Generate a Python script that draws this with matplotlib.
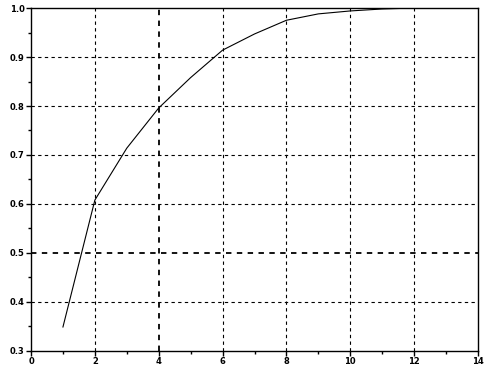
import matplotlib
matplotlib.use("Agg")
import matplotlib.pyplot as plt
from matplotlib.ticker import MultipleLocator

x = [1, 2, 3, 4, 5, 6, 7, 8, 9, 10, 11, 12]
y = [0.349, 0.608, 0.714, 0.796, 0.858, 0.914, 0.947, 0.975, 0.988, 0.994, 0.998, 1.0]

xticks = [0, 2, 4, 6, 8, 10, 12, 14]
yticks = [0.3, 0.4, 0.5, 0.6, 0.7, 0.8, 0.9, 1.0]

fig = plt.figure(figsize=(4.9, 3.67), dpi=100)
ax = fig.add_axes([0.0633, 0.0436, 0.9122, 0.9346])

ax.plot(x, y, color="black", lw=0.8)

ax.set_xlim(0, 14)
ax.set_ylim(0.3, 1.0)
ax.set_xticks(xticks)
ax.set_yticks(yticks)
ax.set_xticklabels([str(t) for t in xticks])
ax.set_yticklabels(["%.1f" % t for t in yticks])
ax.xaxis.set_minor_locator(MultipleLocator(1))
ax.yaxis.set_minor_locator(MultipleLocator(0.05))

# dashed grid, the old renderer draws a few lines heavier
for t in xticks[1:-1]:
    ax.axvline(t, color="black", ls=(0, (3, 3)), lw=1.3 if t == 4 else 0.8, zorder=0)
for t in yticks[1:-1]:
    ax.axhline(t, color="black", ls=(0, (3, 3)), lw=1.3 if abs(t - 0.5) < 1e-9 else 0.8, zorder=0)

ax.tick_params(which="both", direction="out", top=False, right=False, colors="black",
               labelsize=6, pad=1)
ax.tick_params(which="major", length=3.5, width=1)
ax.tick_params(which="minor", length=2.5, width=1)
for lab in ax.get_xticklabels() + ax.get_yticklabels():
    lab.set_fontweight("bold")
for s in ax.spines.values():
    s.set_linewidth(1)
    s.set_color("black")

fig.savefig("out.png", dpi=100)
